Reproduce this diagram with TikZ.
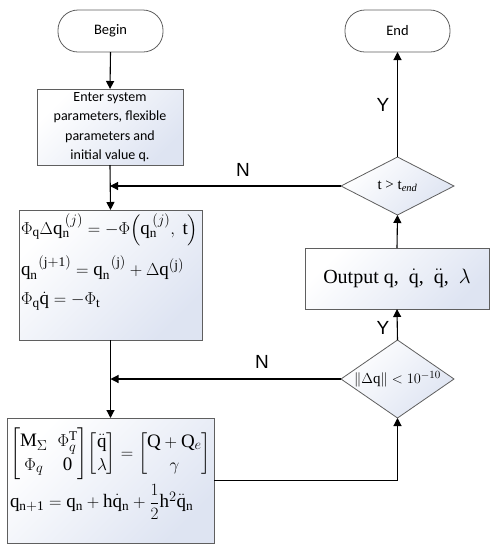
\documentclass[tikz,border=0pt]{standalone}
\usepackage{amsmath}
\usepackage{fontspec}
\setmainfont{Liberation Serif}
\newfontfamily\calib{Carlito}
\usetikzlibrary{shapes.geometric,arrows.meta,calc}
\definecolor{bord}{RGB}{95,95,95}
\definecolor{shadeb}{RGB}{222,228,242}
\tikzset{
  x=1pt,y=-1pt,
  every node/.style={inner sep=0pt,outer sep=0pt},
  term/.style={draw=bord,line width=0.8pt,rounded corners=20pt,fill=white,
    minimum width=105pt,minimum height=42pt,font=\calib\fontsize{14.5}{17}\selectfont},
  procbox/.style={draw=bord,line width=0.8pt,left color=white,right color=shadeb,shading angle=45},
  decis/.style={draw=bord,line width=0.8pt,diamond,left color=white,right color=shadeb,shading angle=45},
  conn/.style={line width=1.1pt,-{Triangle[length=8pt,width=8pt]}},
  plain/.style={line width=1.1pt},
  lab/.style={font=\fontspec{Liberation Sans}\fontsize{19}{20}\selectfont}
}
\begin{document}
\begin{tikzpicture}
\useasboundingbox (0,0) rectangle (498,550);
% left column
\node[term] (begin) at (110.5,31) {Begin};
\node[procbox,minimum width=146pt,minimum height=76pt,align=center,
  font=\calib\fontsize{14}{19.3}\selectfont] (inp) at (110,127)
  {Enter system\\parameters, flexible\\parameters and\\initial value q.};
\node[procbox,minimum width=183pt,minimum height=130pt] (eq1) at (110.5,275) {};
\node[anchor=north west,align=left,font=\fontsize{19}{23}\selectfont] (eq1t) at (21,214)
 {$\Phi_{\mathrm q}\Delta\mathrm q_{\mathrm n}^{\,(j)} = -\Phi\!\left(\mathrm q_{\mathrm n}^{\,(j)},\ \mathrm t\right)$\\[9pt]
  $\mathrm q_{\mathrm n}^{\;\;(\mathrm{j+1})} = \mathrm q_{\mathrm n}^{\;\;(\mathrm j)} + \Delta\mathrm q^{(\mathrm j)}$\\[6pt]
  $\Phi_{\mathrm q}\dot{\mathrm q} = -\Phi_{\mathrm t}$};
\node[procbox,minimum width=207pt,minimum height=125pt] (eq2) at (110.5,480.5) {};
\node[anchor=north west,align=left,font=\fontsize{19}{23}\selectfont] (eq2t) at (10,428)
 {$\begin{bmatrix}\mathrm M_\Sigma & \Phi_q^{\mathrm T}\\ \Phi_q & \mathrm 0\end{bmatrix}\!
   \begin{bmatrix}\ddot{\mathrm q}\\ \lambda\end{bmatrix}=
   \begin{bmatrix}\mathrm Q+\mathrm Q_e\\ \gamma\end{bmatrix}$\\[4pt]
  $\mathrm q_{\mathrm{n+1}} = \mathrm q_{\mathrm n} + \mathrm h\dot{\mathrm q}_{\mathrm n} + \dfrac{1}{2}\mathrm h^2\ddot{\mathrm q}_{\mathrm n}$};
% right column
\node[term] (end) at (397.5,31) {End};
\node[decis,minimum width=113pt,minimum height=58pt,shape aspect=2,
  font=\fontsize{15}{17}\selectfont] (d1) at (397.5,186) {t > t$_{\textit{end}}$};
\node[procbox,minimum width=184pt,minimum height=61pt,
  font=\fontsize{20}{22}\selectfont] (out) at (397,278.5)
  {Output q,\ \ $\dot{\mathrm q}$,\ \ $\ddot{\mathrm q}$,\ \ $\lambda$};
\node[decis,minimum width=113pt,minimum height=78pt,shape aspect=1.5,
  font=\fontsize{15}{17}\selectfont] (d2) at (397.5,379) {$\|\Delta\mathrm q\|<10^{-10}$};
% connectors
\draw[conn] (begin.south) -- (inp.north);
\draw[conn] (inp.south) -- (eq1.north);
\draw[conn] (eq1.south) -- (eq2.north);
\draw[conn] (d1.west) -- (inp.south |- d1.west);
\draw[conn] (d2.west) -- (eq1.south |- d2.west);
\draw[conn] (eq2.east) -- (d2.south |- eq2.east) -- (d2.south);
\draw[conn] (d2.north) -- (out.south);
\draw[conn] (out.north) -- (d1.south);
\draw[conn] (d1.north) -- (end.south);
% labels
\node[lab] (n1) at (243,170) {N};
\node[lab] (n2) at (262,362) {N};
\node[lab] (y1) at (383,105) {Y};
\node[lab] (y2) at (383,328) {Y};
\end{tikzpicture}
\end{document}
